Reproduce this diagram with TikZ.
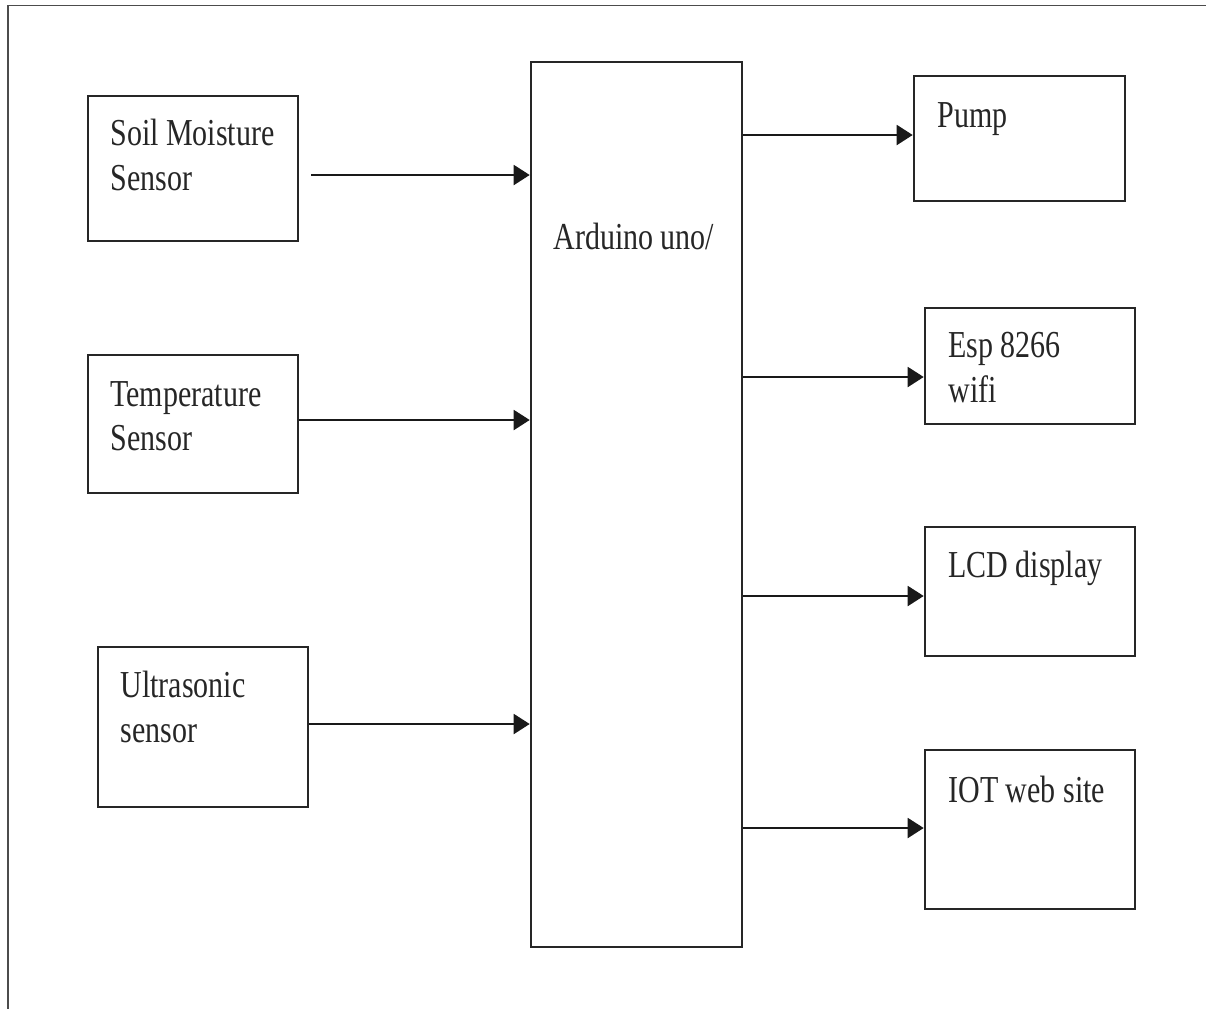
\documentclass[tikz,border=0pt]{standalone}
\usepackage{fontspec}
\setmainfont{Liberation Serif}
\usetikzlibrary{arrows.meta}
\newcommand{\tall}[1]{\scalebox{1}[1.27]{#1}}
\begin{document}
\begin{tikzpicture}[x=0.5pt,y=-0.5pt,
  box/.style={draw=black!85, line width=1.3pt, rectangle, inner sep=0pt},
  lbl/.style={anchor=base west, inner sep=0pt, font=\fontsize{15pt}{18pt}\selectfont, text=black!85},
  arr/.style={draw=black!90, line width=1pt, -{Triangle[length=8pt,width=10pt]}},
  frame/.style={draw=black!70, line width=0.8pt}]
\useasboundingbox (0,0) rectangle (1206,1009);
% frame
\coordinate (ftl) at (8,5.5);
\coordinate (ftr) at (1206,5.5);
\coordinate (fbl) at (8,1009);
\draw[frame] (ftr) -- (ftl) -- (fbl);
% boxes
\node[box, minimum width=105pt, minimum height=72.5pt] (soil) at (193,168.5) {};
\node[box, minimum width=105pt, minimum height=69pt] (temp) at (193,424) {};
\node[box, minimum width=105pt, minimum height=80pt] (ultra) at (203,727) {};
\node[box, minimum width=105.5pt, minimum height=442.5pt] (ard) at (636.5,504.5) {};
\node[box, minimum width=105.5pt, minimum height=62.5pt] (pump) at (1019.5,138.5) {};
\node[box, minimum width=105pt, minimum height=58pt] (esp) at (1030,366) {};
\node[box, minimum width=105pt, minimum height=64.5pt] (lcd) at (1030,591.5) {};
\node[box, minimum width=105pt, minimum height=79.5pt] (iot) at (1030,829.5) {};
% labels
\node[lbl] (soilA) at (110,145) {\tall{Soil Moisture}};
\node[lbl] (soilB) at (110,190) {\tall{Sensor}};
\node[lbl] (tempA) at (110,406) {\tall{Temperature}};
\node[lbl] (tempB) at (110,450) {\tall{Sensor}};
\node[lbl] (ultraA) at (120,697) {\tall{Ultrasonic}};
\node[lbl] (ultraB) at (120,742) {\tall{sensor}};
\node[lbl] (ardA) at (553,249) {\tall{Arduino uno/}};
\node[lbl] (pumpA) at (937,127) {\tall{Pump}};
\node[lbl] (espA) at (948,357) {\tall{Esp 8266}};
\node[lbl] (espB) at (948,402) {\tall{wifi}};
\node[lbl] (lcdA) at (948,577) {\tall{LCD display}};
\node[lbl] (iotA) at (948,802) {\tall{IOT web site}};
% arrow rows
\coordinate (r1) at (0,175);
\coordinate (r2) at (0,420);
\coordinate (r3) at (0,724);
\coordinate (q1) at (0,135);
\coordinate (q2) at (0,377);
\coordinate (q3) at (0,596);
\coordinate (q4) at (0,828);
% connectors
\draw[arr] ([xshift=6pt]soil.east |- r1) -- (ard.west |- r1);
\draw[arr] (temp.east |- r2) -- (ard.west |- r2);
\draw[arr] (ultra.east |- r3) -- (ard.west |- r3);
\draw[arr] (ard.east |- q1) -- (pump.west |- q1);
\draw[arr] (ard.east |- q2) -- (esp.west |- q2);
\draw[arr] (ard.east |- q3) -- (lcd.west |- q3);
\draw[arr] (ard.east |- q4) -- (iot.west |- q4);
\end{tikzpicture}
\end{document}
